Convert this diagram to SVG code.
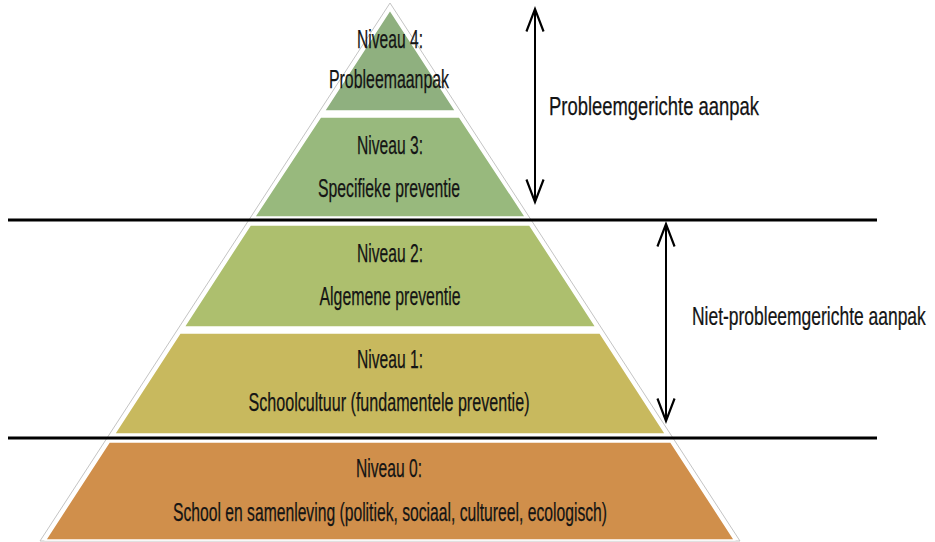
<svg xmlns="http://www.w3.org/2000/svg" width="935" height="542" viewBox="0 0 935 542">
  <defs>
    <marker id="openHead" markerUnits="userSpaceOnUse" markerWidth="30" markerHeight="30" viewBox="-24 -12 28 24" refX="0" refY="0" orient="auto-start-reverse">
      <path d="M-21,-8 L0,0 L-21,8" fill="none" stroke="#000" stroke-width="2" stroke-linejoin="miter"/>
    </marker>
  </defs>
  <style>
    .tier { stroke: #ffffff; stroke-width: 1.5; }
    .lbl { font-family: "Liberation Sans Narrow", "Liberation Sans", Arial, sans-serif; font-size: 25px; fill: #141414; text-anchor: middle; stroke: #141414; stroke-width: 0.25; }
    .side { font-family: "Liberation Sans Narrow", "Liberation Sans", Arial, sans-serif; font-size: 25px; fill: #141414; stroke: #141414; stroke-width: 0.25; }
    .band { stroke: #000; stroke-width: 3; }
    .span { stroke: #000; stroke-width: 2; fill: none; marker-start: url(#openHead); marker-end: url(#openHead); }
  </style>
  <rect width="935" height="542" fill="#ffffff"/>

  <!-- faint outline of the whole pyramid -->
  <polygon points="390,3 740,541 40,541" fill="none" stroke="#c4c4c4" stroke-width="1"/>

  <g id="niveau4">
    <polygon class="tier" points="390,10 455.7,111 324.3,111" fill="#8fb07f"/>
    <text class="lbl" x="390" y="48" textLength="66" lengthAdjust="spacingAndGlyphs">Niveau 4:</text>
    <text class="lbl" x="389" y="88" textLength="120" lengthAdjust="spacingAndGlyphs">Probleemaanpak</text>
  </g>

  <g id="niveau3">
    <polygon class="tier" points="320.5,117 459.5,117 525.5,217 254.5,217" fill="#98b97d"/>
    <text class="lbl" x="390" y="154" textLength="66" lengthAdjust="spacingAndGlyphs">Niveau 3:</text>
    <text class="lbl" x="389" y="197" textLength="142" lengthAdjust="spacingAndGlyphs">Specifieke preventie</text>
  </g>

  <g id="niveau2">
    <polygon class="tier" points="250.3,225 529.7,225 596,327 184,327" fill="#adbf6e"/>
    <text class="lbl" x="390" y="262" textLength="66" lengthAdjust="spacingAndGlyphs">Niveau 2:</text>
    <text class="lbl" x="390" y="305" textLength="141" lengthAdjust="spacingAndGlyphs">Algemene preventie</text>
  </g>

  <g id="niveau1">
    <polygon class="tier" points="180,333 600,333 665.6,434 114.4,434" fill="#c8b95e"/>
    <text class="lbl" x="390" y="368" textLength="66" lengthAdjust="spacingAndGlyphs">Niveau 1:</text>
    <text class="lbl" x="389" y="411" textLength="281" lengthAdjust="spacingAndGlyphs">Schoolcultuur (fundamentele preventie)</text>
  </g>

  <g id="niveau0">
    <polygon class="tier" points="109.2,442 670.8,442 734.5,540 45.5,540" fill="#d08f4b"/>
    <text class="lbl" x="389" y="477" textLength="66" lengthAdjust="spacingAndGlyphs">Niveau 0:</text>
    <text class="lbl" x="390" y="521" textLength="434" lengthAdjust="spacingAndGlyphs">School en samenleving (politiek, sociaal, cultureel, ecologisch)</text>
  </g>

  <g id="labels">
    <text class="side" x="549" y="115" textLength="210" lengthAdjust="spacingAndGlyphs">Probleemgerichte aanpak</text>
    <!-- narrowed by a horizontal scale so the label stays inside the right edge -->
    <text class="side" transform="translate(692,325) scale(0.7,1)" x="0" y="0" textLength="334" lengthAdjust="spacingAndGlyphs">Niet-probleemgerichte aanpak</text>
  </g>

  <g id="connectors">
    <line class="band" x1="8" y1="220" x2="877" y2="220"/>
    <line class="band" x1="8" y1="438" x2="877" y2="438"/>
    <line class="span" x1="535" y1="9" x2="535" y2="202"/>
    <line class="span" x1="666" y1="224" x2="666" y2="421"/>
  </g>
</svg>
